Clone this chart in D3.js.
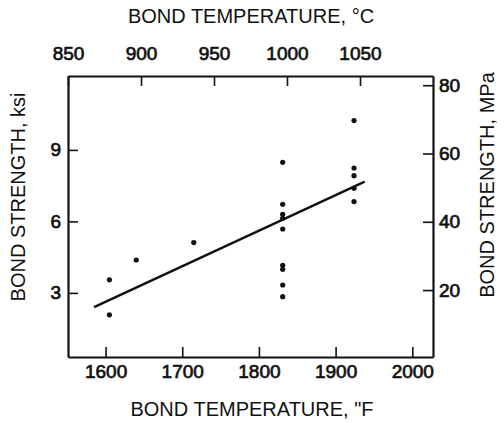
<!DOCTYPE html>
<html>
<head>
<meta charset="utf-8">
<script src="https://cdn.jsdelivr.net/npm/d3@7"></script>
<style>
  body { margin: 0; background: #fff; }
  text { font-family: "Liberation Sans", Arial, sans-serif; fill: #111; }
  .axis path, .axis line { stroke: #111; }
</style>
</head>
<body>
<svg id="chart"></svg>
<script>
// bond temperature (F) and bond strength (ksi) readings
var tempF    = [1605, 1605, 1640, 1715,
                1831, 1831, 1831, 1831, 1831, 1831, 1831, 1831, 1831,
                1924, 1924, 1924, 1924, 1924];
var strength = [3.55, 2.08, 4.38, 5.11,
                8.48, 6.72, 6.30, 6.13, 5.68, 4.16, 3.99, 3.33, 2.84,
                10.23, 8.24, 7.92, 7.39, 6.83];
// least squares line end points
var fitF   = [1585, 1938];
var fitKsi = [2.40, 7.67];

var ticksF   = [1600, 1700, 1800, 1900, 2000];
var ticksC   = [850, 900, 950, 1000, 1050];
var ticksKsi = [3, 6, 9];
var ticksMPa = [20, 40, 60, 80];

drawChart("#chart");

function drawChart(id){
	var svgWidth = 504, svgHeight = 423;
	var left = 68, right = 433, top = 76, bottom = 357;

	var svg = d3.select(id).attr("width", svgWidth).attr("height", svgHeight);

	var xF = d3.scaleLinear().domain([1551, 2027]).range([left, right]);
	var xC = d3.scaleLinear().domain([850, 1100]).range([left, right]);
	var yK = d3.scaleLinear().domain([0.31, 12.1]).range([bottom, top]);
	var yM = d3.scaleLinear().domain([0.4, 82.7]).range([bottom, top]);

	var fmt = d3.format("d");

	svg.append("g").attr("class","axis")
		.attr("transform","translate(0," + bottom + ")")
		.call(d3.axisBottom(xF).tickValues(ticksF).tickFormat(fmt).tickSizeInner(-10).tickSizeOuter(0).tickPadding(8));
	svg.append("g").attr("class","axis")
		.attr("transform","translate(0," + top + ")")
		.call(d3.axisTop(xC).tickValues(ticksC).tickFormat(fmt).tickSizeInner(-10).tickSizeOuter(0).tickPadding(16));
	svg.append("g").attr("class","axis")
		.attr("transform","translate(" + left + ",0)")
		.call(d3.axisLeft(yK).tickValues(ticksKsi).tickFormat(fmt).tickSizeInner(-10).tickSizeOuter(0).tickPadding(7));
	svg.append("g").attr("class","axis")
		.attr("transform","translate(" + right + ",0)")
		.call(d3.axisRight(yM).tickValues(ticksMPa).tickFormat(fmt).tickSizeInner(-10).tickSizeOuter(0).tickPadding(6));

	svg.selectAll(".axis path").attr("stroke-width", 2.2);
	svg.selectAll(".axis line").attr("stroke-width", 1.6);
	svg.selectAll(".axis text")
		.attr("font-size", "19px")
		.attr("font-family", "Liberation Sans, Arial, sans-serif")
		.attr("fill", "#111")
		.attr("stroke", "#111")
		.attr("stroke-width", 0.7);

	// fit line
	svg.append("line")
		.attr("x1", xF(fitF[0])).attr("y1", yK(fitKsi[0]))
		.attr("x2", xF(fitF[1])).attr("y2", yK(fitKsi[1]))
		.attr("stroke", "#111")
		.attr("stroke-width", 2.4);

	svg.selectAll("circle.pt")
		.data(tempF)
		.enter()
		.append("circle")
		.attr("class","pt")
		.attr("cx", function(d){ return xF(d); })
		.attr("cy", function(d,i){ return yK(strength[i]); })
		.attr("r", 2.6)
		.attr("fill", "#111");

	// titles
	svg.append("text")
		.attr("x", 251).attr("y", 23)
		.attr("text-anchor","middle")
		.attr("font-size","20px")
		.text("BOND TEMPERATURE, °C");
	svg.append("text")
		.attr("x", 252).attr("y", 416)
		.attr("text-anchor","middle")
		.attr("font-size","20px")
		.text("BOND TEMPERATURE, \"F");
	svg.append("text")
		.attr("transform","translate(25,197) rotate(-90)")
		.attr("text-anchor","middle")
		.attr("font-size","20px")
		.text("BOND STRENGTH, ksi");
	svg.append("text")
		.attr("transform","translate(494,185) rotate(-90)")
		.attr("text-anchor","middle")
		.attr("font-size","20px")
		.text("BOND STRENGTH, MPa");
}
</script>
</body>
</html>
